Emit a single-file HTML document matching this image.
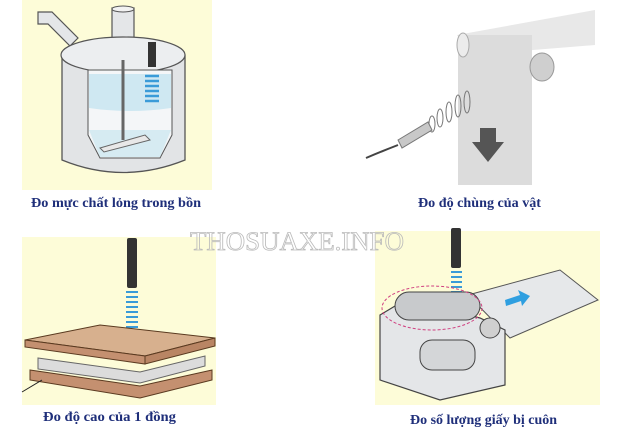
<!DOCTYPE html>
<html><head><meta charset="utf-8"><style>
html,body{margin:0;padding:0;background:#fff;}
svg{display:block}
.cap{font-family:"Liberation Serif",serif;font-weight:bold;font-size:14px;fill:#1f2f7a}
</style></head><body>
<svg width="640" height="435" viewBox="0 0 640 435" xmlns="http://www.w3.org/2000/svg">
<!-- panel 1 -->
<rect x="22" y="0" width="190" height="190" fill="#fdfcd8"/>
<path d="M38 12 L52 12 L78 38 L70 46 L48 24 L38 24 Z" fill="#e4e6e8" stroke="#555" stroke-width="1.2"/>
<rect x="112" y="8" width="22" height="30" fill="#e4e6e8" stroke="#555" stroke-width="1.2"/>
<ellipse cx="123" cy="9" rx="11" ry="3" fill="#f2f2f2" stroke="#555"/>
<path d="M62 55 Q123 25 185 55 L185 160 Q123 185 62 160 Z" fill="#e2e4e6" stroke="#555" stroke-width="1.3"/>
<ellipse cx="123" cy="55" rx="62" ry="18" fill="#eceef0" stroke="#555" stroke-width="1.2"/>
<path d="M88 70 L172 70 L172 135 L160 158 L100 158 L88 135 Z" fill="#f4f6f8" stroke="#555"/>
<path d="M89 74 L171 74 L171 108 Q130 114 89 108 Z" fill="#cfe8f2"/>
<path d="M89 130 L171 130 L160 157 L100 157 Z" fill="#d6ebf2"/>
<line x1="123" y1="60" x2="123" y2="140" stroke="#666" stroke-width="3"/>
<path d="M100 148 L145 135 L150 140 L104 152 Z" fill="#e8e8e8" stroke="#666"/>
<rect x="148" y="42" width="8" height="25" fill="#333"/>
<g stroke="#3a9bd8" stroke-width="2.5" fill="none">
<path d="M145 76 h14 M145 81 h14 M145 86 h14 M145 91 h14 M145 96 h14 M145 101 h14"/>
</g>
<text x="31" y="207" class="cap" textLength="170" lengthAdjust="spacingAndGlyphs">Đo mực chất lỏng trong bồn</text>
<!-- panel 2 -->
<path d="M457 35 L595 10 L595 45 L470 55 Z" fill="#e8e8e8"/>
<rect x="458" y="35" width="74" height="150" fill="#dcdcdc"/>
<ellipse cx="463" cy="45" rx="6" ry="12" fill="#ececec" stroke="#aaa"/>
<ellipse cx="542" cy="67" rx="12" ry="14" fill="#cfcfcf" stroke="#999"/>
<path d="M480 128 l16 0 l0 14 l8 0 l-16 20 l-16 -20 l8 0 z" fill="#555"/>
<g stroke="#777" fill="none" stroke-width="1">
<ellipse cx="432" cy="124" rx="3" ry="8"/><ellipse cx="440" cy="118" rx="3" ry="9"/><ellipse cx="449" cy="112" rx="3" ry="10"/><ellipse cx="458" cy="106" rx="3" ry="11"/><ellipse cx="467" cy="102" rx="3" ry="11"/>
</g>
<path d="M398 140 L428 122 L432 130 L402 148 Z" fill="#c8c8c8" stroke="#777"/>
<path d="M398 145 Q380 152 366 158" stroke="#444" stroke-width="2" fill="none"/>
<text x="418" y="207" class="cap" textLength="123" lengthAdjust="spacingAndGlyphs">Đo độ chùng của vật</text>
<!-- panel 3 -->
<rect x="22" y="237" width="194" height="168" fill="#fdfcd8"/>
<rect x="127" y="238" width="10" height="50" rx="2" fill="#333"/>
<g stroke="#3a9bd8" stroke-width="2" fill="none">
<path d="M126 292 h12 M126 297 h12 M126 302 h12 M126 307 h12 M126 312 h12 M126 317 h12 M126 322 h12 M126 327 h12 M126 332 h12"/>
</g>
<path d="M25 340 L100 325 L215 338 L145 356 Z" fill="#d7b08e" stroke="#5a3a20"/>
<path d="M25 340 L145 356 L145 364 L25 347 Z" fill="#c49070" stroke="#5a3a20"/>
<path d="M145 356 L215 338 L215 346 L145 364 Z" fill="#b98564" stroke="#5a3a20"/>
<path d="M38 358 L140 372 L205 356 L205 366 L140 383 L38 369 Z" fill="#dcdcdc" stroke="#666"/>
<path d="M30 370 L140 386 L212 370 L212 380 L140 398 L30 380 Z" fill="#c49070" stroke="#5a3a20"/>
<line x1="22" y1="392" x2="42" y2="380" stroke="#222"/>
<text x="43" y="421" class="cap" textLength="133" lengthAdjust="spacingAndGlyphs">Đo độ cao của 1 đồng</text>
<!-- panel 4 -->
<rect x="375" y="231" width="225" height="174" fill="#fdfcd8"/>
<rect x="451" y="228" width="10" height="40" rx="2" fill="#333"/>
<g stroke="#3a9bd8" stroke-width="2" fill="none"><path d="M451 272 h11 M451 277 h11 M451 282 h11 M451 287 h11 M451 292 h11"/></g>
<path d="M468 295 L560 270 L598 300 L510 338 Z" fill="#e6e8ea" stroke="#555"/>
<path d="M505 300 l15 -5 l-2 -5 l12 6 l-8 10 l-1 -5 l-15 5 z" fill="#2f9fe0"/>
<path d="M380 315 L405 300 L480 318 L505 330 L505 385 L440 400 L380 380 Z" fill="#e4e6e8" stroke="#444" stroke-width="1.2"/>
<rect x="395" y="292" width="85" height="28" rx="14" fill="#c8cacc" stroke="#444"/>
<ellipse cx="490" cy="328" rx="10" ry="10" fill="#d0d0d0" stroke="#444"/>
<rect x="420" y="340" width="55" height="30" rx="12" fill="#d4d6d8" stroke="#444"/>
<ellipse cx="432" cy="308" rx="50" ry="22" fill="none" stroke="#d04080" stroke-dasharray="3,2"/>
<text x="410" y="424" class="cap" textLength="147" lengthAdjust="spacingAndGlyphs">Đo số lượng giấy bị cuôn</text>
<!-- watermark (on top) -->
<text x="190" y="250" font-family="Liberation Serif,serif" font-size="26" fill="none" stroke="#bbb" stroke-width="0.8" textLength="214" lengthAdjust="spacingAndGlyphs">THOSUAXE.INFO</text>
</svg>
</body></html>
